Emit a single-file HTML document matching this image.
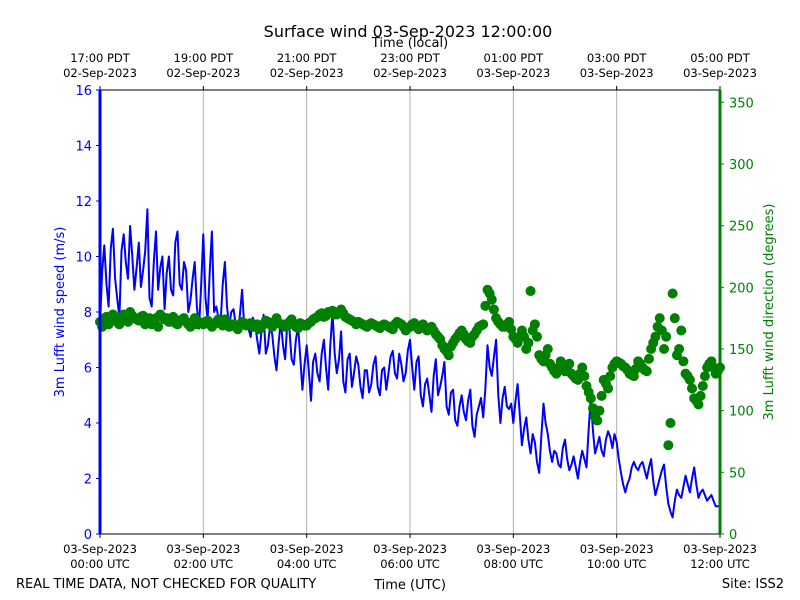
<!DOCTYPE html>
<html><head><meta charset="utf-8"><style>
html,body{margin:0;padding:0;background:#fff;}
svg{display:block;font-family:"DejaVu Sans","Liberation Sans",sans-serif;}
</style></head><body>
<svg id="chart" width="800" height="600" viewBox="0 0 800 600" xmlns="http://www.w3.org/2000/svg">
<rect x="0" y="0" width="800" height="600" fill="#fff"/>
<text x="408" y="37" font-size="16" text-anchor="middle">Surface wind 03-Sep-2023 12:00:00</text>
<text x="410" y="47" font-size="13" text-anchor="middle">Time (local)</text>
<text x="410" y="589" font-size="13" text-anchor="middle">Time (UTC)</text>
<text x="16" y="588" font-size="13">REAL TIME DATA, NOT CHECKED FOR QUALITY</text>
<text x="784" y="588" font-size="13" text-anchor="end">Site: ISS2</text>
<text transform="translate(64,312) rotate(-90)" font-size="13" fill="#0000ff" text-anchor="middle">3m Lufft wind speed (m/s)</text>
<text transform="translate(773,312) rotate(-90)" font-size="13" fill="#008000" text-anchor="middle">3m Lufft wind direction (degrees)</text>
<g id="grid"></g><g id="marks"></g><g id="axes"></g>
</svg>
<script>
const speedValues=[7.5,10.4,8.2,11,8.5,10.2,9.8,11.1,8.8,10.5,9.5,11.7,
8.2,10.9,9.6,8.1,10,8.6,10.9,8.8,9.5,8.4,9.8,7.4,
10.8,7.7,10.9,8.2,7.6,9.8,7.5,8.1,7.3,8.8,7.7,7.1,
7.6,6.5,7.9,6.8,7.2,5.9,7.7,6.3,7.4,6.1,7.5,5.2,
6.8,4.8,6.5,5.5,7.0,5.2,8.0,5.8,7.3,5.1,6.5,5.8,
6.1,4.9,5.9,5.4,6.4,5.0,6.0,5.8,6.6,5.6,6.1,5.8,
7.0,5.2,6.4,4.6,5.6,4.4,6.3,5.3,6.2,4.3,5.2,3.9,
5.0,4.1,5.2,3.5,4.6,4.2,6.8,5.7,7.0,4.0,5.3,4.5,
4.0,5.4,3.2,4.2,2.9,3.3,2.2,4.7,3.6,2.6,2.9,2.4,
3.4,2.3,2.8,2.0,3.0,2.4,4.9,2.9,3.5,2.8,3.7,3.1,
3.3,2.2,1.5,2.0,2.6,2.3,2.6,2.0,2.7,1.4,2.0,2.5,
1.1,0.6,1.6,1.3,2.1,1.5,2.4,1.3,1.6,1.2,1.4,1.0,1.0];
const speedMid=[9.5,9.0,10.3,9.2,7.8,10.8,9.2,10.0,9.6,8.9,10.2,8.5,
9.8,8.8,10.0,9.4,8.8,10.5,9.0,9.8,8.0,9.2,8.2,9.0,
8.5,9.5,8.0,7.8,9.0,8.2,8.0,7.6,7.9,7.5,7.4,7.8,
7.0,7.3,6.5,7.5,6.4,6.9,6.8,7.6,6.3,7.0,6.4,6.1,
5.9,6.2,5.8,6.5,6.0,6.8,6.5,6.3,5.5,6.3,5.3,6.4,
5.3,5.9,5.1,6.1,5.3,5.9,5.2,6.4,5.8,6.5,5.5,6.6,
6.0,6.2,5.0,5.4,5.0,5.7,5.0,5.7,4.6,5.1,4.1,4.6,
4.4,4.8,3.9,4.3,4.9,5.2,6.0,6.4,5.0,4.9,4.6,4.7,
4.8,4.3,3.8,3.4,3.6,2.6,3.5,4.0,3.0,3.0,2.5,3.1,
2.7,2.5,2.4,2.6,2.7,3.8,3.7,3.2,3.0,3.4,3.5,3.6,
2.7,1.8,1.8,2.4,2.4,2.5,2.3,2.4,1.9,1.7,2.3,1.7,
0.8,1.2,1.4,1.7,1.8,2.0,1.8,1.5,1.4,1.3,1.2,1.0];
const directionValues=[172,175,170,178,172,176,174,180,175,173,177,172,
170,175,178,174,172,176,170,174,172,168,175,172,
170,173,168,172,171,174,168,170,166,172,169,171,
168,166,170,172,168,175,170,168,172,170,167,170,
169,172,175,178,176,180,181,178,182,176,174,172,
172,170,168,171,169,167,170,168,166,172,170,165,
168,171,166,170,165,168,162,158,150,145,155,160,
165,158,155,162,168,170,198,190,175,170,168,172,
160,155,165,150,197,170,145,140,150,135,130,140,
132,138,128,125,135,120,110,95,100,125,118,135,
140,138,135,130,128,140,135,132,150,160,175,150,
72,195,145,165,130,125,110,105,120,135,140,130,135];
const directionMid=[168,176,174,175,170,178,172,177,174,176,170,175,
173,168,176,175,174,171,173,175,170,172,170,171,
172,170,170,174,169,172,170,168,170,171,170,168,
170,168,173,170,172,171,170,169,174,168,171,169,
171,174,176,179,177,180,178,180,179,175,173,170,
171,169,170,170,168,169,169,167,170,171,168,167,
170,168,168,167,166,165,160,153,148,152,158,163,
162,156,160,165,169,185,195,182,172,168,170,166,
158,160,160,155,165,160,142,145,138,132,135,136,
135,130,126,130,128,115,102,92,112,122,128,138,
139,136,133,129,134,138,133,142,155,168,165,160,
90,175,150,140,128,118,108,112,128,138,135,132];
const speedTicks=[0,2,4,6,8,10,12,14,16];
const dirTicks=[0,50,100,150,200,250,300,350];
const timeTicks=[0,2,4,6,8,10,12];
const utcLabels=["00:00 UTC","02:00 UTC","04:00 UTC","06:00 UTC","08:00 UTC","10:00 UTC","12:00 UTC"];
const utcDates=["03-Sep-2023","03-Sep-2023","03-Sep-2023","03-Sep-2023","03-Sep-2023","03-Sep-2023","03-Sep-2023"];
const localLabels=["17:00 PDT","19:00 PDT","21:00 PDT","23:00 PDT","01:00 PDT","03:00 PDT","05:00 PDT"];
const localDates=["02-Sep-2023","02-Sep-2023","02-Sep-2023","02-Sep-2023","03-Sep-2023","03-Sep-2023","03-Sep-2023"];
const stepHours=5/60;

const L=100,R=720,T=90,B=534;
const xs=h=>L+(R-L)*h/12;
const ys=v=>B-(B-T)*v/16;
const yd=d=>B-(B-T)*d/360;
const NS="http://www.w3.org/2000/svg";
function mk(tag,attrs,parent,text){const e=document.createElementNS(NS,tag);for(const k in attrs)e.setAttribute(k,attrs[k]);if(text!==undefined)e.textContent=text;parent.appendChild(e);return e;}
const grid=document.getElementById('grid'),marks=document.getElementById('marks'),axes=document.getElementById('axes');
mk('rect',{x:L,y:T,width:R-L,height:B-T,fill:'none',stroke:'#000','stroke-width':1},axes);
timeTicks.forEach((h,i)=>{
  const x=xs(h);
  if(i>0&&i<timeTicks.length-1){const g=mk('line',{x1:x,x2:x,y1:T,y2:B,stroke:'#b0b0b0','stroke-width':1},grid);
  
  }
  mk('line',{x1:x,x2:x,y1:B,y2:B+4,stroke:'#000'},axes);
  mk('line',{x1:x,x2:x,y1:T,y2:T-4,stroke:'#000'},axes);
  const a=mk('text',{x:x,y:553,'font-size':11.5,'text-anchor':'middle'},axes,utcDates[i]);
  
  
  mk('text',{x:x,y:568,'font-size':11.5,'text-anchor':'middle'},axes,utcLabels[i]);
  const b=mk('text',{x:x,y:62,'font-size':11.5,'text-anchor':'middle'},axes,localLabels[i]);
  
  
  mk('text',{x:x,y:77,'font-size':11.5,'text-anchor':'middle'},axes,localDates[i]);
});
speedTicks.forEach(v=>{const y=ys(v);
  mk('line',{x1:L-4,x2:L,y1:y,y2:y,stroke:'#0000ff'},axes);
  const t=mk('text',{x:L-8,y:y+5,'font-size':13,'text-anchor':'end',fill:'#0000ff'},axes,String(v));
  
  
});
dirTicks.forEach(v=>{const y=yd(v);
  mk('line',{x1:R,x2:R+4,y1:y,y2:y,stroke:'#008000'},axes);
  const t=mk('text',{x:R+9,y:y+5,'font-size':13,fill:'#008000'},axes,String(v));
  
  
});
mk('line',{x1:L,x2:L,y1:T,y2:B,stroke:'#0000ff','stroke-width':3},axes);
mk('line',{x1:R,x2:R,y1:T,y2:B,stroke:'#008000','stroke-width':3},axes);
const sp=[];
speedValues.forEach((v,i)=>{
  sp.push(xs(i*stepHours).toFixed(1)+','+ys(v).toFixed(1));
  if(i<speedMid.length)sp.push(xs(i*stepHours+stepHours/2).toFixed(1)+','+ys(speedMid[i]).toFixed(1));
});
const line=mk('polyline',{points:sp.join(' '),fill:'none',stroke:'#0000ff','stroke-width':2,'stroke-linejoin':'round'},marks);


directionValues.forEach((d,i)=>{
  const c=mk('circle',{cx:xs(i*stepHours),cy:yd(d),r:5,fill:'#008000'},marks);
  
  
});
directionMid.forEach((d,i)=>{
  const c=mk('circle',{cx:xs(i*stepHours+stepHours/2),cy:yd(d),r:5,fill:'#008000'},marks);
  
  
});
</script>
</body></html>
